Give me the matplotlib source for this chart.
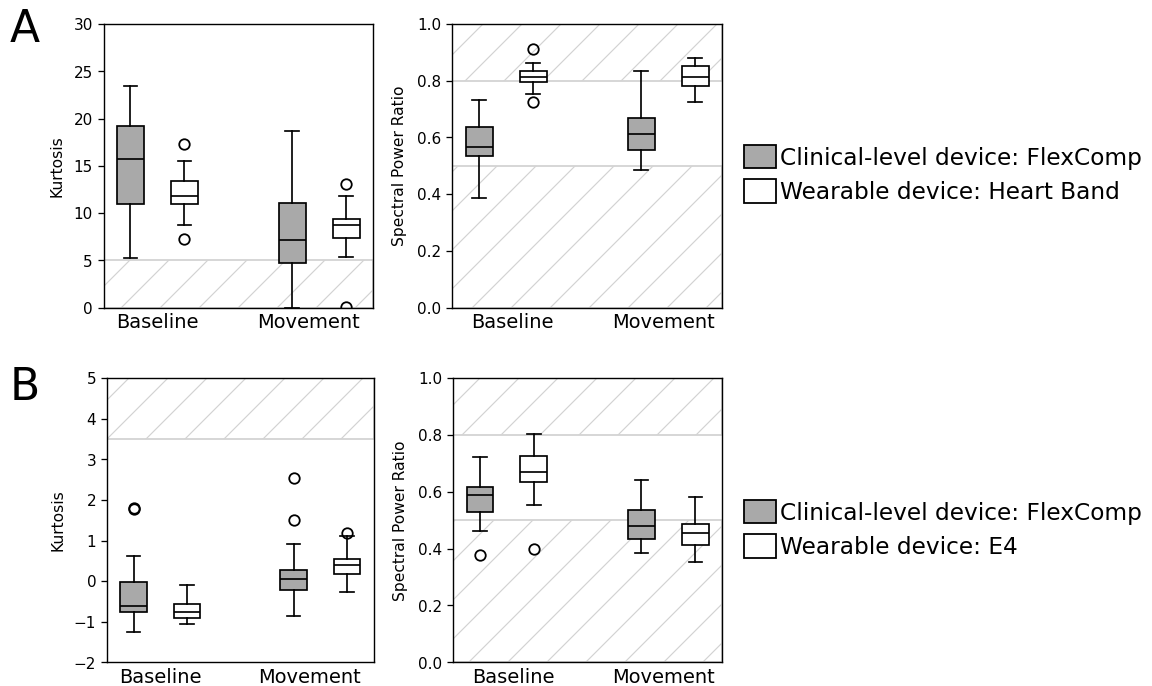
import matplotlib
matplotlib.use("Agg")
import matplotlib.pyplot as plt
from matplotlib.patches import Patch

# ---------------- data ----------------
categories = ["Baseline", "Movement"]
devices_A = ["Clinical-level device: FlexComp", "Wearable device: Heart Band"]
devices_B = ["Clinical-level device: FlexComp", "Wearable device: E4"]
# box order: FlexComp-Baseline, Wearable-Baseline, FlexComp-Movement, Wearable-Movement

# Panel A - Kurtosis
a_kurt_whislo = [5.2, 8.7, 0.0, 5.4]
a_kurt_q1 = [11.0, 10.95, 4.75, 7.4]
a_kurt_med = [15.75, 11.75, 7.15, 8.75]
a_kurt_q3 = [19.25, 13.35, 11.1, 9.4]
a_kurt_whishi = [23.45, 15.5, 18.65, 11.75]
a_kurt_fliers = [[], [17.3, 7.25], [], [13.1, 0.05]]

# Panel A - Spectral power ratio
a_spr_whislo = [0.387, 0.754, 0.485, 0.724]
a_spr_q1 = [0.533, 0.794, 0.555, 0.780]
a_spr_med = [0.567, 0.812, 0.611, 0.814]
a_spr_q3 = [0.638, 0.833, 0.667, 0.853]
a_spr_whishi = [0.731, 0.864, 0.835, 0.881]
a_spr_fliers = [[], [0.911, 0.726], [], []]

# Panel B - Kurtosis
b_kurt_whislo = [-1.25, -1.05, -0.87, -0.27]
b_kurt_q1 = [-0.75, -0.90, -0.22, 0.17]
b_kurt_med = [-0.61, -0.75, 0.05, 0.40]
b_kurt_q3 = [-0.02, -0.57, 0.28, 0.55]
b_kurt_whishi = [0.62, -0.10, 0.92, 1.10]
b_kurt_fliers = [[1.81, 1.77], [], [2.54, 1.51], [1.18]]

# Panel B - Spectral power ratio
b_spr_whislo = [0.462, 0.552, 0.384, 0.352]
b_spr_q1 = [0.529, 0.633, 0.434, 0.414]
b_spr_med = [0.589, 0.669, 0.478, 0.454]
b_spr_q3 = [0.617, 0.727, 0.535, 0.485]
b_spr_whishi = [0.723, 0.804, 0.642, 0.582]
b_spr_fliers = [[0.379], [0.400], [], []]

# hatched "poor quality" ranges
a_kurt_bad = [(0, 5)]
a_spr_bad = [(0, 0.5), (0.8, 1.0)]
b_kurt_bad = [(3.5, 5)]
b_spr_bad = [(0, 0.5), (0.8, 1.0)]

# ---------------- style ----------------
DPI = 117
W, H = 1152, 686


def pt(px):
    """convert a size in pixels to points at the output dpi"""
    return px * 72.0 / DPI


FLEX_COLOR = "#a9a9a9"
WEAR_COLOR = "white"
HATCH_COLOR = "#d3d3d3"
box_colors = [FLEX_COLOR, WEAR_COLOR, FLEX_COLOR, WEAR_COLOR]
box_positions = [0.8, 1.2, 2.0, 2.4]
LW = pt(1.7)

plt.rcParams["hatch.linewidth"] = pt(1.2)

fig = plt.figure(figsize=((W + 0.3) / DPI, (H + 0.3) / DPI), dpi=DPI)


def px_axes(left, top, right, bottom):
    return fig.add_axes([left / W, 1 - bottom / H, (right - left) / W, (bottom - top) / H])


axA1 = px_axes(103.5, 24.3, 373, 307.7)
axA2 = px_axes(452, 24.3, 722, 307.7)
axB1 = px_axes(107, 378.3, 373.5, 662.3)
axB2 = px_axes(453, 378.3, 722, 662.3)


def draw_panel(ax, whislo, q1, med, q3, whishi, fliers, bad, ylim, yticks, ylabel,
               fmt, xticks, labelpad_px):
    for lo, hi in bad:
        ax.axhspan(lo, hi, facecolor="none", edgecolor=HATCH_COLOR, hatch="/",
                   linewidth=pt(1.8), zorder=0.5)
    stats = []
    for i in range(len(med)):
        stats.append(dict(med=med[i], q1=q1[i], q3=q3[i], whislo=whislo[i],
                          whishi=whishi[i], fliers=fliers[i]))
    bp = ax.bxp(stats, positions=box_positions, widths=0.2, patch_artist=True,
                manage_ticks=False,
                boxprops=dict(linewidth=LW, edgecolor="black"),
                medianprops=dict(color="black", linewidth=LW),
                whiskerprops=dict(color="black", linewidth=LW),
                capprops=dict(color="black", linewidth=LW),
                flierprops=dict(marker="o", markerfacecolor="none",
                                markeredgecolor="black", markersize=pt(10.5),
                                markeredgewidth=pt(1.8)))
    for patch, c in zip(bp["boxes"], box_colors):
        patch.set_facecolor(c)
    ax.set_xlim(0.6, 2.6)
    ax.set_ylim(*ylim)
    ax.set_yticks(yticks)
    ax.set_yticklabels([fmt(v) for v in yticks])
    ax.set_xticks(xticks)
    ax.set_xticklabels(categories)
    ax.tick_params(axis="x", length=0, labelsize=pt(19.4), pad=pt(5.0))
    ax.tick_params(axis="y", length=pt(5.6), width=pt(1.3), labelsize=pt(15.3),
                   pad=pt(5.2))
    ax.set_ylabel(ylabel, fontsize=pt(15.5), labelpad=pt(labelpad_px))
    for s in ax.spines.values():
        s.set_linewidth(pt(1.4))


def fmt_int(v):
    return f"{v:g}".replace("-", "\u2212")


def fmt_1(v):
    return f"{v:.1f}"


spr_ticks = [0.0, 0.2, 0.4, 0.6, 0.8, 1.0]

draw_panel(axA1, a_kurt_whislo, a_kurt_q1, a_kurt_med, a_kurt_q3, a_kurt_whishi,
           a_kurt_fliers, a_kurt_bad, (0, 30), [0, 5, 10, 15, 20, 25, 30],
           "Kurtosis", fmt_int, [1.0, 2.12], 8.5)
draw_panel(axA2, a_spr_whislo, a_spr_q1, a_spr_med, a_spr_q3, a_spr_whishi,
           a_spr_fliers, a_spr_bad, (0, 1.0), spr_ticks,
           "Spectral Power Ratio", fmt_1, [1.045, 2.165], 10.5)
draw_panel(axB1, b_kurt_whislo, b_kurt_q1, b_kurt_med, b_kurt_q3, b_kurt_whishi,
           b_kurt_fliers, b_kurt_bad, (-2, 5), [-2, -1, 0, 1, 2, 3, 4, 5],
           "Kurtosis", fmt_int, [1.0, 2.12], 8.5)
draw_panel(axB2, b_spr_whislo, b_spr_q1, b_spr_med, b_spr_q3, b_spr_whishi,
           b_spr_fliers, b_spr_bad, (0, 1.0), spr_ticks,
           "Spectral Power Ratio", fmt_1, [1.045, 2.165], 10.5)


# legends
def add_legend(labels, top_px):
    handles = [Patch(facecolor=FLEX_COLOR, edgecolor="black", linewidth=pt(1.8)),
               Patch(facecolor=WEAR_COLOR, edgecolor="black", linewidth=pt(1.8))]
    fig.legend(handles, labels, loc="upper left",
               bbox_to_anchor=(744 / W, 1 - top_px / H), frameon=False,
               fontsize=pt(23.3), handlelength=1.37, handleheight=1.16,
               handletextpad=0.15, labelspacing=0.43, borderpad=0,
               borderaxespad=0)


add_legend(devices_A, 145)
add_legend(devices_B, 500)

# panel letters
fig.text(10 / W, 1 - 41.5 / H, "A", fontsize=pt(44), va="baseline", ha="left")
fig.text(10 / W, 1 - 400 / H, "B", fontsize=pt(44), va="baseline", ha="left")

fig.savefig("out.png", dpi=DPI)
